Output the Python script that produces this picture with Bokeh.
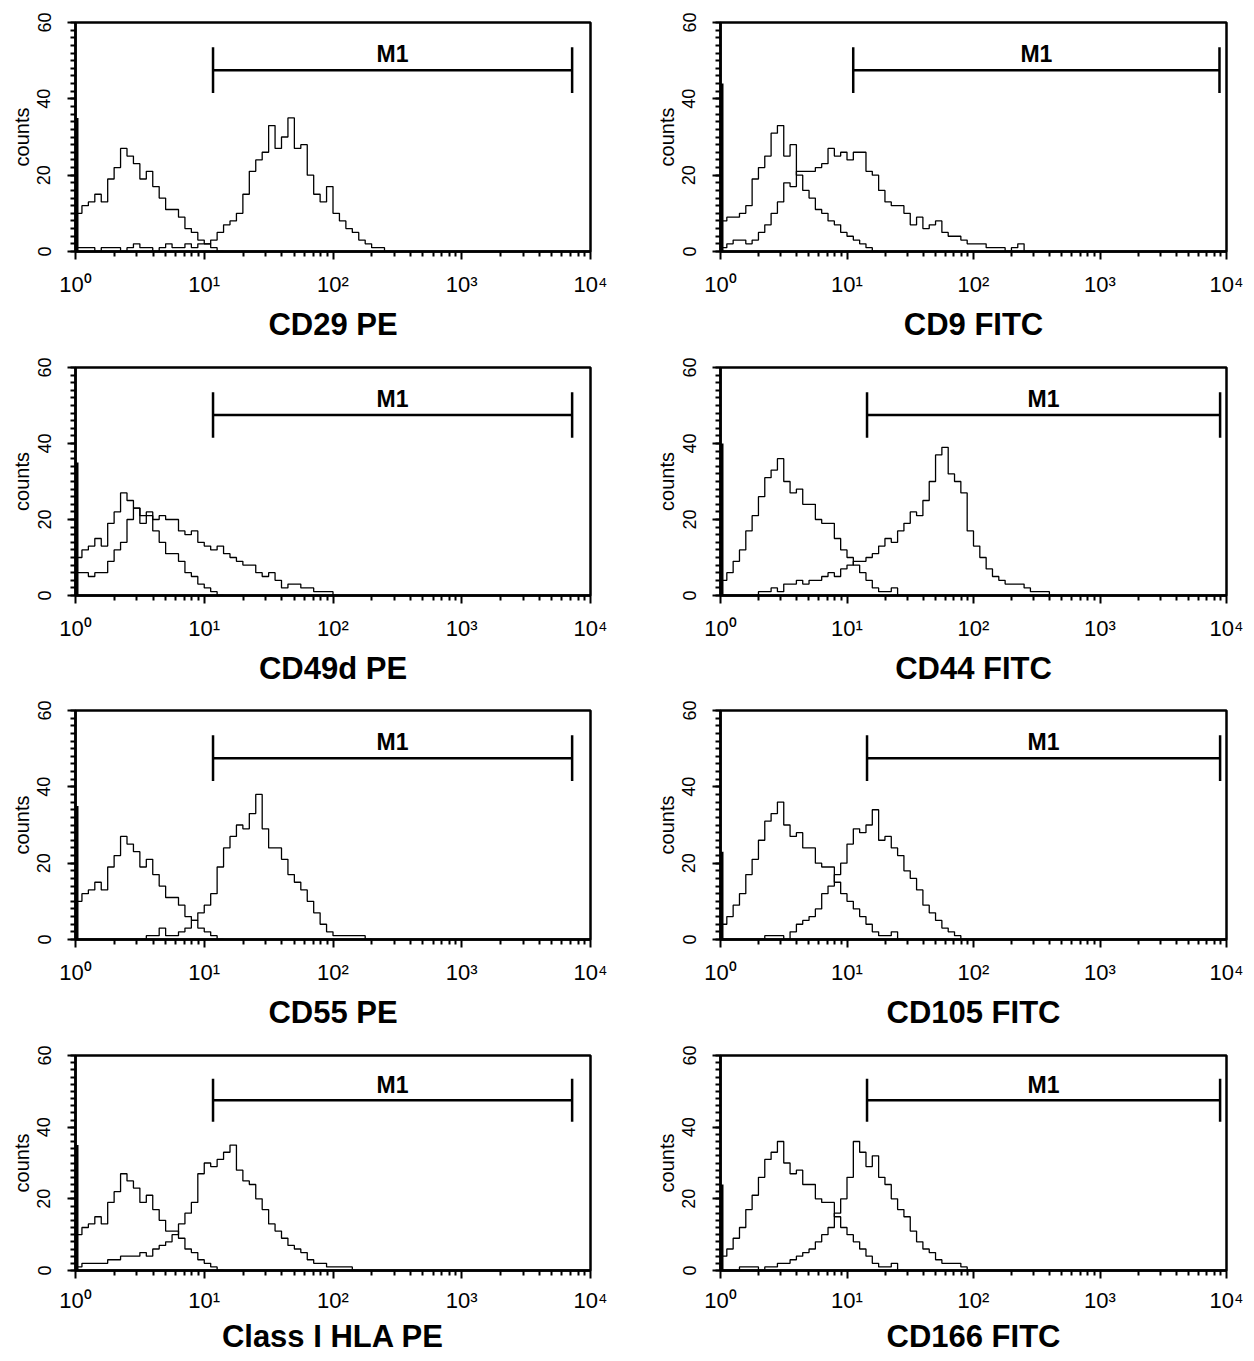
import numpy as np
from bokeh.plotting import figure
from bokeh.layouts import column, row
from bokeh.models import Range1d, FixedTicker
from bokeh.embed import file_html
from bokeh.resources import INLINE
from bokeh.core.properties import value

# ---------------- data ----------------
BIN_DECADES = 0.05          # width of one histogram channel in log10 units; channel 0 starts at 10^0
DECADES = [1, 10, 100, 1000, 10000]
DECADE_LABELS = ["10\u2070", "10\u00b9", "10\u00b2", "10\u00b3", "10\u2074"]
Y_TICKS = [0, 20, 40, 60]

# isotype controls (counts per channel)
PE_CONTROL = [10, 12, 13, 15, 13, 19, 22, 27, 25, 23, 19, 21, 17, 14, 11, 11, 9, 6, 5, 3, 2, 1, 0]
FITC_CONTROL = [4, 6, 9, 12, 17, 21, 26, 31, 33, 36, 30, 27, 28, 24, 24, 20, 19, 19, 15, 12,
                10, 8, 6, 4, 2, 1, 1, 2, 0]
CD9_CONTROL = [8, 9, 9, 10, 12, 19, 22, 25, 31, 33, 25, 28, 20, 16, 14, 11, 10, 8, 7, 5, 4, 3, 2, 1, 0]

# stained samples
CD29_PE = [1, 1, 1, 0, 1, 1, 1, 0, 1, 2, 1, 1, 0, 1, 2, 1, 1, 2, 1, 2,
           2, 3, 5, 7, 8, 10, 15, 21, 24, 26, 33, 27, 30, 35, 27, 28, 20, 15, 13, 17,
           10, 8, 6, 5, 3, 2, 1, 1, 0]
CD9_FITC = [1, 2, 3, 3, 2, 3, 5, 7, 10, 13, 18, 17, 21, 21, 21, 22, 23, 27, 25, 26,
            24, 26, 26, 21, 20, 16, 13, 12, 12, 10, 7, 9, 6, 7, 8, 5, 4, 4, 3, 2,
            2, 2, 1, 1, 1, 0, 1, 2, 0]
CD49D_PE = [6, 6, 5, 6, 6, 9, 12, 14, 20, 23, 21, 22, 20, 21, 20, 20, 17, 16, 17, 14,
            13, 12, 13, 11, 10, 9, 8, 8, 6, 5, 6, 4, 2, 3, 3, 2, 2, 1, 1, 1, 0]
CD44_FITC = [0, 0, 0, 0, 0, 0, 1, 1, 2, 1, 3, 3, 4, 3, 4, 4, 5, 6, 5, 7,
             8, 9, 9, 10, 11, 13, 15, 14, 17, 19, 22, 21, 25, 30, 37, 39, 32, 30, 27, 17,
             13, 10, 7, 5, 4, 3, 3, 3, 2, 1, 1, 1, 0]
CD55_PE = [0, 0, 0, 0, 0, 0, 0, 0, 0, 0, 0, 1, 1, 3, 1, 1, 2, 3, 5, 7,
           9, 12, 19, 24, 27, 30, 29, 33, 38, 29, 24, 24, 21, 17, 15, 13, 10, 7, 4, 2,
           1, 1, 1, 1, 1, 0]
CD105_FITC = [0, 0, 0, 0, 0, 0, 0, 1, 1, 1, 0, 2, 4, 5, 6, 8, 12, 14, 17, 20,
              25, 29, 28, 30, 34, 26, 27, 24, 22, 18, 16, 13, 9, 7, 5, 3, 2, 1, 0]
HLA_PE = [1, 2, 2, 2, 2, 3, 3, 4, 4, 4, 5, 4, 6, 7, 8, 10, 13, 16, 19, 27,
          30, 29, 31, 33, 35, 28, 25, 24, 20, 17, 13, 11, 9, 7, 6, 5, 3, 2, 2, 1,
          1, 1, 1, 0]
CD166_FITC = [0, 0, 0, 1, 1, 1, 0, 1, 1, 2, 2, 3, 4, 5, 6, 8, 10, 12, 16, 20,
              26, 36, 33, 29, 32, 26, 24, 20, 17, 15, 11, 8, 6, 5, 3, 2, 2, 2, 1, 0]

TITLES = ["CD29 PE", "CD9 FITC", "CD49d PE", "CD44 FITC",
          "CD55 PE", "CD105 FITC", "Class I HLA PE", "CD166 FITC"]
CONTROLS = [PE_CONTROL, CD9_CONTROL, PE_CONTROL, FITC_CONTROL,
            PE_CONTROL, FITC_CONTROL, PE_CONTROL, FITC_CONTROL]
STAINED = [CD29_PE, CD9_FITC, CD49D_PE, CD44_FITC, CD55_PE, CD105_FITC, HLA_PE, CD166_FITC]
FIRST_CHANNEL = [35, 44, 35, 40, 35, 23, 35, 24]       # pile-up in the lowest channel
M1_START = [11.7, 11.2, 11.7, 14.4, 11.7, 14.4, 11.7, 14.4]
M1_END = [7200, 8800, 7200, 8900, 7200, 8900, 7200, 8900]
M1_LEVEL = 47.5
M1_LOW = 41.5
M1_HIGH = 53.5
M1_TEXT_Y = 51.8

FONT = "Liberation Sans"

# layout (pixels) per row: figure height, top border, bottom border
ROW_HEIGHT = [344, 344, 344, 324]
ROW_TOP = [22, 23, 22, 23]
ROW_BOTTOM = [91, 91, 92, 76]


def channel_edges(n):
    return 10 ** (np.arange(n + 1) * BIN_DECADES)


def draw_hist(p, counts):
    x = channel_edges(len(counts))
    y = list(counts) + [0]
    p.step(x, y, mode="after", line_color="black", line_width=1.3)


def make_panel(i):
    col = i % 2
    r = i // 2
    last_row = r == 3
    width = 620 if col == 0 else 628
    p = figure(width=width, height=ROW_HEIGHT[r], x_axis_type="log",
               x_range=Range1d(1, 10000), y_range=Range1d(0, 60),
               output_backend="svg", toolbar_location=None, tools="",
               min_border_left=75 if col == 0 else 100,
               min_border_right=30 if col == 0 else 22,
               min_border_top=ROW_TOP[r], min_border_bottom=ROW_BOTTOM[r])
    p.background_fill_color = "white"
    p.border_fill_color = "white"
    p.xgrid.visible = False
    p.ygrid.visible = False
    p.outline_line_color = "black"
    p.outline_line_width = 2.5

    xa = p.xaxis[0]
    minors = [m * d for d in DECADES[:-1] for m in range(2, 10)]
    xa.ticker = FixedTicker(ticks=DECADES, minor_ticks=minors)
    xa.major_label_overrides = {d: lab for d, lab in zip(DECADES, DECADE_LABELS)}
    xa.major_label_text_font = FONT
    xa.major_label_text_font_size = "22px"
    xa.major_label_text_color = "black"
    xa.major_label_standoff = 9 if last_row else 12
    xa.major_tick_out = 8
    xa.major_tick_in = 0
    xa.minor_tick_out = 5
    xa.minor_tick_in = 0
    xa.major_tick_line_width = 2
    xa.minor_tick_line_width = 2
    xa.axis_line_width = 2.5
    xa.axis_label = TITLES[i]
    xa.axis_label_text_font = FONT
    xa.axis_label_text_font_style = "bold"
    xa.axis_label_text_font_size = "31px"
    xa.axis_label_text_color = "black"
    xa.axis_label_standoff = 3 if last_row else 7

    ya = p.yaxis[0]
    ya.ticker = FixedTicker(ticks=Y_TICKS, minor_ticks=list(range(0, 61, 2)))
    ya.major_label_orientation = "vertical"
    ya.major_label_text_font = FONT
    ya.major_label_text_font_size = "18px"
    ya.major_label_text_color = "black"
    ya.major_label_standoff = 17
    ya.major_tick_out = 8
    ya.major_tick_in = 0
    ya.minor_tick_out = 5
    ya.minor_tick_in = 0
    ya.major_tick_line_width = 2
    ya.minor_tick_line_width = 2
    ya.axis_line_width = 2.5
    ya.axis_label = "counts"
    ya.axis_label_text_font = FONT
    ya.axis_label_text_font_style = "normal"
    ya.axis_label_text_font_size = "20px"
    ya.axis_label_text_color = "black"
    ya.axis_label_standoff = 2

    # histograms
    draw_hist(p, CONTROLS[i])
    draw_hist(p, STAINED[i])
    p.segment(x0=[1], y0=[0], x1=[1], y1=[FIRST_CHANNEL[i]], line_color="black", line_width=6)

    # M1 marker
    s, e = M1_START[i], M1_END[i]
    p.segment(x0=[s], y0=[M1_LEVEL], x1=[e], y1=[M1_LEVEL], line_color="black", line_width=2.5)
    p.segment(x0=[s, e], y0=[M1_LOW, M1_LOW], x1=[s, e], y1=[M1_HIGH, M1_HIGH],
              line_color="black", line_width=2.5)
    p.text(x=[float(np.sqrt(s * e))], y=[M1_TEXT_Y], text=["M1"], text_font=value(FONT),
           text_font_style="bold", text_font_size="23px", text_align="center",
           text_baseline="alphabetic", text_color="black")
    return p


panels = [make_panel(i) for i in range(8)]
layout = column(*[row(panels[2 * r], panels[2 * r + 1]) for r in range(4)], spacing=0)

open("out.html", "w").write(file_html(layout, INLINE))
